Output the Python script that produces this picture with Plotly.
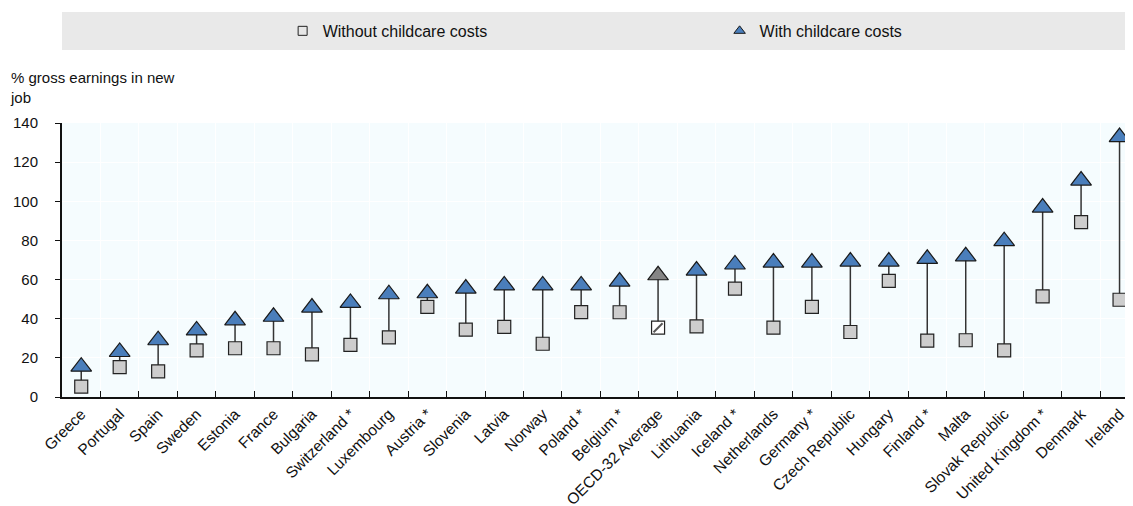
import plotly.graph_objects as go

countries = [
    "Greece", "Portugal", "Spain", "Sweden", "Estonia", "France", "Bulgaria",
    "Switzerland *", "Luxembourg", "Austria *", "Slovenia", "Latvia", "Norway",
    "Poland *", "Belgium *", "OECD-32 Average", "Lithuania", "Iceland *",
    "Netherlands", "Germany *", "Czech Republic", "Hungary", "Finland *",
    "Malta", "Slovak Republic", "United Kingdom *", "Denmark", "Ireland",
]
without_childcare = [
    5.3, 15.3, 13.1, 23.8, 24.9, 24.9, 21.8, 26.6, 30.5, 46.0, 34.4, 35.8,
    27.2, 43.4, 43.3, 35.4, 36.1, 55.4, 35.4, 46.0, 33.2, 59.3, 28.8, 29.0,
    23.8, 51.4, 89.4, 49.7,
]
with_childcare = [
    15.5, 23.0, 29.0, 34.0, 39.2, 41.0, 45.7, 48.1, 52.5, 53.0, 55.4, 57.0,
    57.0, 57.0, 59.0, 62.2, 64.6, 67.7, 68.7, 68.7, 69.2, 69.2, 70.6, 71.9,
    79.6, 96.8, 110.6, 132.8,
]
average_label = "OECD-32 Average"

FONT = "Liberation Sans, Arial, sans-serif"

# colours per point, the OECD average gets its own look
sq_colors = ["white" if c == average_label else "#CDCDCD" for c in countries]
tri_colors = ["#858585" if c == average_label else "#4A7EBB" for c in countries]

# vertical connectors between the two markers of each country
line_x, line_y = [], []
for c, lo, hi in zip(countries, without_childcare, with_childcare):
    line_x += [c, c, None]
    line_y += [lo, hi, None]

fig = go.Figure()

fig.add_trace(go.Scatter(
    x=line_x, y=line_y, mode="lines",
    line=dict(color="#333333", width=1.5),
    showlegend=False, hoverinfo="skip",
))

fig.add_trace(go.Scatter(
    x=countries, y=without_childcare, mode="markers",
    name="Without childcare costs",
    marker=dict(symbol="square", size=13, color=sq_colors,
                line=dict(color="#222222", width=1.2)),
    showlegend=False,
))

avg_idx = countries.index(average_label)
fig.add_trace(go.Scatter(
    x=[countries[avg_idx]], y=[without_childcare[avg_idx]], mode="markers",
    marker=dict(symbol="line-ne", size=9, line=dict(color="#555555", width=2)),
    showlegend=False, hoverinfo="skip",
))

fig.add_trace(go.Scatter(
    x=countries, y=with_childcare, mode="markers",
    name="With childcare costs",
    marker=dict(symbol="triangle-up", size=18, color=tri_colors,
                line=dict(color="#1A1A1A", width=1.2)),
    showlegend=False,
))

# legend-only entries with small symbols, one legend box each
fig.add_trace(go.Scatter(
    x=[None], y=[None], mode="markers", name="Without childcare costs",
    marker=dict(symbol="square", size=9, color="#E6E6E6",
                line=dict(color="#222222", width=1)),
    legend="legend",
))
fig.add_trace(go.Scatter(
    x=[None], y=[None], mode="markers", name="With childcare costs",
    marker=dict(symbol="triangle-up", size=10, color="#4A7EBB",
                line=dict(color="#1A1A1A", width=1)),
    legend="legend2",
))

# grey band behind the legend
fig.add_shape(
    type="rect", xref="paper", yref="paper",
    x0=0, x1=1.0, y0=1.266, y1=1.405,
    fillcolor="#E9E9E9", line=dict(width=0), layer="below",
)

fig.add_annotation(
    text="% gross earnings in new<br>job",
    xref="paper", yref="paper", x=-0.0504, y=1.204,
    xanchor="left", yanchor="top", align="left", showarrow=False,
    font=dict(family=FONT, size=15, color="#111111"),
)

legend_style = dict(
    orientation="h", xanchor="left", y=1.336, yanchor="middle",
    bgcolor="rgba(0,0,0,0)", font=dict(family=FONT, size=16),
    itemsizing="trace",
)

fig.update_layout(
    width=1125, height=498,
    margin=dict(l=54, r=0, t=115, b=109, autoexpand=False),
    paper_bgcolor="white",
    plot_bgcolor="#F5FCFE",
    font=dict(family=FONT, size=15, color="#111111"),
    legend=dict(x=0.206, **legend_style),
    legend2=dict(x=0.614, **legend_style),
    xaxis=dict(
        type="category", range=[-0.5, 27.35], automargin=False,
        tickson="boundaries", ticks="inside", ticklen=6, tickcolor="#111111",
        tickangle=-45, tickfont=dict(family=FONT, size=15.5),
        showgrid=True, gridcolor="white", gridwidth=1,
        showline=True, linecolor="#111111", linewidth=2,
    ),
    yaxis=dict(
        range=[0, 140], tick0=0, dtick=20, automargin=False,
        ticks="outside", ticklen=5, tickcolor="#111111",
        tickfont=dict(family=FONT, size=15), ticklabelstandoff=14,
        showgrid=True, gridcolor="white", gridwidth=1, zeroline=False,
        showline=True, linecolor="#111111", linewidth=2, mirror=True,
    ),
)

fig.write_html("out.html")
